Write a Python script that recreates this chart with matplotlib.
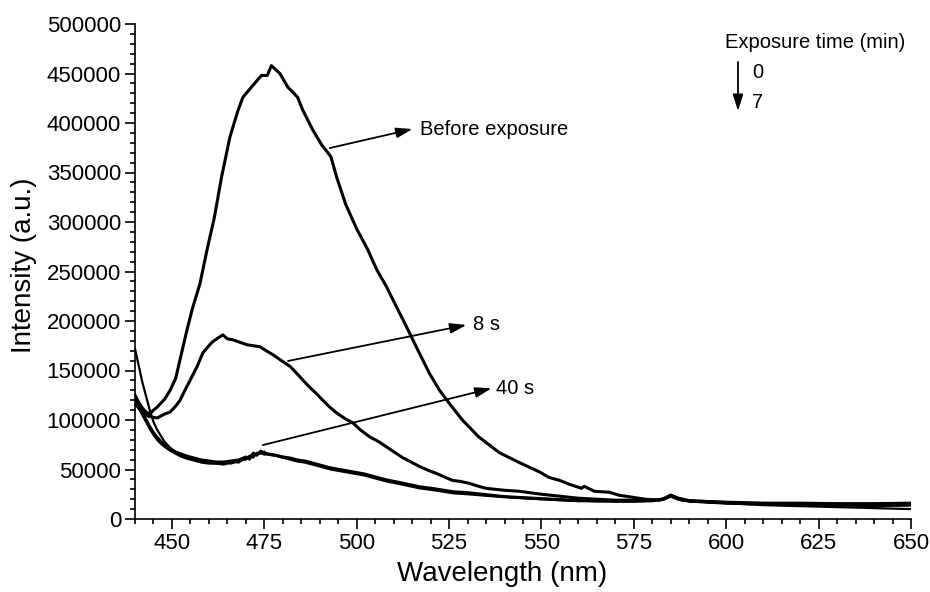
import matplotlib
matplotlib.use("Agg")
import matplotlib.pyplot as plt
from matplotlib.ticker import MultipleLocator
import numpy as np

plt.rcParams['font.family'] = ['Liberation Sans', 'DejaVu Sans']

# ---- data (intensities in thousands of a.u.) ----
WL_BEFORE = [440,441,442,443,444,445,446,447,448,449.5,451,452,454,455.5,457.6,459.5,461.5,463.4,465.7,467.9,
             469.2,471.9,474.2,475.8,476.9,479.2,481.4,483,484,485.4,488.1,490.5,492.2,493,494.6,497,500,503,505.4,508,
             510.8,513.5,516.5,519.7,522.4,525,528.6,533,538.6,544,549.5,552,554.9,557.6,560.8,561.6,564.3,568.4,571,574.6,
             578,582,585,588,592,600,610,620,630,640,650]
BEFORE = [125,118,112,108,106,110,113,117,121,130,142,158,190,212,238,272,305,345,386,413,
          426,438,448,448,458,450,436,430,426,413,393,378,370,366,345,318,293,272,252,235,
          214,194,171,147,130,117,100,83,67,57,47.5,42,39,35,31,33,28,27,24,22,
          20,19,24,19,18,17,16,16,15.5,15.5,16]

WL_8S = [440,441,442.2,443.5,444.6,446,447,448,449.5,451,452.2,453.5,454.9,456.8,458.4,460,461,462.5,463.8,465,
         466.5,468,470.3,472,473.8,475.5,477.3,480,482,483.8,485.5,487.3,489,490.8,492.7,494.6,497,499,501,503.5,
         506,508,510,512.4,515,517,519.5,521.6,524,525.9,528,530.5,533,535,540,544,550,555,560,565,
         570,575,580,583,585,587,590,600,610,620,630,640,650]
S8 = [117,112,107,104,103,102,104,106,108,114,120,130,140,154,168,175,179,183,186,182,
      181,179,176,175,174,170,166,159,154,147,140,133,127,120,113,107,101,97,90,83,
      78,73,68,62,57,53,49,46,42,39,38,36,33,31,29,28,25,23,21,20,
      19,19,19,20,23,20,18,16,15,14,14,13.5,14]

WL_LOW = [440,441,442,443,444,445,446,447,448,449.5,451,452.5,454,456,458,460,462,464,466,468,
          470,471,472,473,474,475,476,478,480,482,484,486,488,490,493,496,499,502,505,508,
          512,517,521,526,530,535,540,545,550,555,560,565,570,575,580,583,585,587,590,595,
          600,610,620,630,640,650]
LOW_1 = [172,155,138,124,110,98,90,84,78,72,68,65,62,60,58,57,57,56,58,57,
         62,60,66,64,68,66,65,64,62,61,59,58,56,54,51,49,47,45,42,39,
         36,32,30,27,26,24,22.5,21,20,19,18.5,18,18,18,18.5,20,24,21,18,17,
         16,14,13,12,11,10]
LOW_2 = [125,117,109,101,94,88,83,79,75,71,68,66,64,62,60,59,58,58,59,60,
         63,62,67,65,69,67,66,65,63,62,60,59,57,55,52,50,48,46,43,40,
         37,33,31,28,27,25,23,22,21,20,19,18.5,18.5,18.5,19,20.5,24.5,21.5,19,18,
         17,16,16,15.5,15.5,16]
LOW_3 = [118,112,105,98,91,85,80,76,73,69,66,63,61,59,57,56,56,55,57,58,
         61,63,64,66,67,65,66,64,62,60,58,57,55,53,50,48,46,44,41,38,
         35,31,29,26,25,23.5,22,21,20,19,18,18,17.5,17.5,18,19.5,23,20.5,18,17,
         16,15,14.5,14,14,14]
LOW_4 = [122,114,106,99,92,86,81,77,74,70,67,64,62,60,58,57,56,57,56,59,
         60,64,62,67,66,68,65,64,63,61,59,58,56,54,51,49,47,45,42,39,
         36,32,30,27,26,24,22.5,21.5,20.5,19.5,18.5,18,18,18,18.5,20,23.5,21,18.5,17.5,
         16.5,15.5,15,15,14.5,15]

X_TICKS = [450, 475, 500, 525, 550, 575, 600, 625, 650]
Y_TICKS = [0, 50000, 100000, 150000, 200000, 250000, 300000, 350000, 400000, 450000, 500000]

SCALE = 1000.0

fig = plt.figure(figsize=(9.3, 5.92), dpi=100)
ax = fig.add_axes([135/930, 1-519/592, (911-135)/930, (519-24)/592])

for y in (LOW_1, LOW_2, LOW_3, LOW_4):
    ax.plot(WL_LOW, np.array(y) * SCALE, color='black', lw=1.6)
ax.plot(WL_8S, np.array(S8) * SCALE, color='black', lw=2.2)
ax.plot(WL_BEFORE, np.array(BEFORE) * SCALE, color='black', lw=2.2)

ax.set_xlim(440, 650)
ax.set_ylim(0, 500000)
ax.set_xticks(X_TICKS)
ax.set_yticks(Y_TICKS)
ax.set_yticklabels([str(v) for v in Y_TICKS])
ax.xaxis.set_minor_locator(MultipleLocator(5))
ax.yaxis.set_minor_locator(MultipleLocator(10000))
ax.tick_params(which='major', direction='out', length=7, width=1.2, labelsize=16, pad=3)
ax.tick_params(which='minor', direction='out', length=3.5, width=1.2)
for s in ('top', 'right'):
    ax.spines[s].set_visible(False)
for s in ('left', 'bottom'):
    ax.spines[s].set_linewidth(1.2)

ax.set_xlabel('Wavelength (nm)', fontsize=20)
ax.xaxis.set_label_coords((502-135)/776, (519-561)/495)
ax.set_ylabel('Intensity (a.u.)', fontsize=20)
ax.yaxis.set_label_coords((37-135)/776, (519-265)/495)

arrow = dict(arrowstyle='-|>,head_length=0.7,head_width=0.22', lw=1.3, color='black',
             shrinkA=0, shrinkB=0, mutation_scale=14)
ax.annotate('', xy=(515.1, 393900), xytext=(492.7, 374700), arrowprops=arrow)
ax.text(517, 393900, 'Before exposure', fontsize=14.5, va='center', ha='left')
ax.annotate('', xy=(529.7, 196000), xytext=(481.4, 159600), arrowprops=arrow)
ax.text(531.6, 196000, '8 s', fontsize=14.5, va='center', ha='left')
ax.annotate('', xy=(536.5, 132000), xytext=(474.6, 74700), arrowprops=arrow)
ax.text(537.8, 132000, '40 s', fontsize=14.5, va='center', ha='left')

# legend-like annotation in figure pixel coords
W, H = 930, 592
fig.text(725/W, 1-42/H, 'Exposure time (min)', fontsize=14.5, va='center', ha='left')
fig.text(752/W, 1-72/H, '0', fontsize=14.5, va='center', ha='left')
fig.text(752/W, 1-102/H, '7', fontsize=14.5, va='center', ha='left')
fig.add_artist(matplotlib.patches.FancyArrowPatch((738/W, 1-62/H), (738/W, 1-111/H),
               transform=fig.transFigure, arrowstyle='-|>,head_length=0.7,head_width=0.22',
               lw=1.3, color='black', mutation_scale=14, shrinkA=0, shrinkB=0))

fig.savefig('out.png', dpi=100)
